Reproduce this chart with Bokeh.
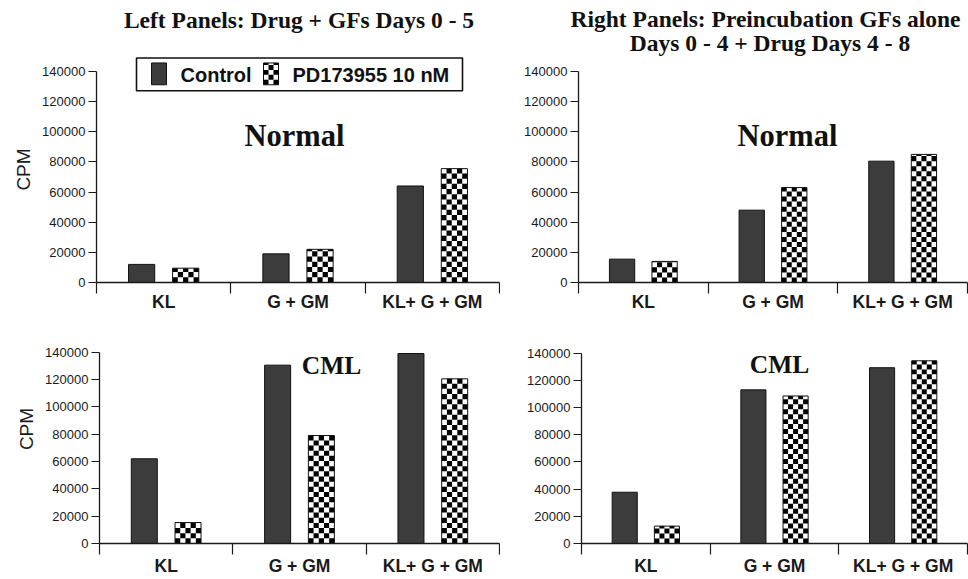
import numpy as np
from bokeh.plotting import figure
from bokeh.layouts import row, column
from bokeh.models import (Range1d, LinearAxis, FixedTicker, BasicTickFormatter, Label)
from bokeh.embed import file_html
from bokeh.resources import INLINE

# ---------------- data ----------------
categories = ["KL", "G + GM", "KL+ G + GM"]
series_names = ["Control", "PD173955 10 nM"]
y_ticks = [0, 20000, 40000, 60000, 80000, 100000, 120000, 140000]

normal_left_control = [12000, 19000, 64000]
normal_left_drug = [9500, 22000, 75500]
normal_right_control = [15500, 48000, 80500]
normal_right_drug = [14000, 63000, 85000]
cml_left_control = [62000, 130500, 139000]
cml_left_drug = [15300, 79000, 120500]
cml_right_control = [37700, 113000, 129300]
cml_right_drug = [12800, 108500, 134400]

title_left = "Left Panels: Drug + GFs Days 0 - 5"
title_right_1 = "Right Panels: Preincubation GFs alone"
title_right_2 = "Days 0 - 4 + Drug Days 4 - 8"
tag_normal = "Normal"
tag_cml = "CML"
y_label = "CPM"

# ---------------- style ----------------
SANS = "Liberation Sans"
SERIF = "Liberation Serif"
INK = "#1a1a1a"
BAR_DARK = "#3c3c3c"
OFF = 0.164
BW = 0.195
CELL_COLS = 5
BASE_SHIFT = 0.3   # empirical: rendered baseline sits ~0.3 em below the anchor


def checker_cells(xl, xr, yb, yt, ncols, cell_h):
    cw = (xr - xl) / ncols
    ls, rs, bs, ts = [], [], [], []
    nrows = int(np.ceil((yt - yb) / cell_h - 1e-9))
    for j in range(nrows):
        b = yb + j * cell_h
        t = min(b + cell_h, yt)
        for i in range(ncols):
            if (i + j) % 2 == 0:
                ls.append(xl + i * cw)
                rs.append(xl + (i + 1) * cw)
                bs.append(b)
                ts.append(t)
    return ls, rs, bs, ts


def make_panel(ctrl, drug, g, ylabel, xl_standoff):
    win_x0, win_y0, width, height = g["box"]
    L, R, y0, y140 = g["L"], g["R"], g["y0"], g["y140"]
    ncat = len(categories)
    y_end = 140000 * (y0 - win_y0) / (y0 - y140)
    p = figure(width=width, height=height,
               x_range=Range1d(0, ncat), y_range=Range1d(0, y_end),
               output_backend="svg", toolbar_location=None,
               x_axis_type=None, y_axis_type=None,
               min_border_left=L - win_x0, min_border_right=win_x0 + width - R,
               min_border_top=0, min_border_bottom=win_y0 + height - y0,
               outline_line_color=None, background_fill_color="white",
               border_fill_color="white")

    centers = np.arange(ncat) + 0.5
    xaxis = LinearAxis(
        ticker=FixedTicker(ticks=list(centers), minor_ticks=list(range(ncat + 1))),
        major_label_overrides={float(c): lab for c, lab in zip(centers, categories)},
        axis_line_color=INK, axis_line_width=1.3,
        major_tick_out=0, major_tick_in=0,
        minor_tick_out=11, minor_tick_in=0,
        minor_tick_line_color=INK, minor_tick_line_width=1.2,
        major_label_text_font=SANS, major_label_text_font_style="bold",
        major_label_text_font_size="17.5px", major_label_text_color=INK,
        major_label_standoff=xl_standoff)
    yaxis = LinearAxis(
        ticker=FixedTicker(ticks=y_ticks), bounds=(0, 140000),
        formatter=BasicTickFormatter(use_scientific=False),
        axis_line_color=INK, axis_line_width=1.3,
        major_tick_out=8, major_tick_in=0,
        major_tick_line_color=INK, major_tick_line_width=1.2,
        major_label_text_font=SANS, major_label_text_font_size="13px",
        major_label_text_color=INK, major_label_standoff=3)
    if ylabel:
        yaxis.axis_label = ylabel
        yaxis.axis_label_text_font = SANS
        yaxis.axis_label_text_font_style = "normal"
        yaxis.axis_label_text_font_size = "19px"
        yaxis.axis_label_text_color = INK
        yaxis.axis_label_standoff = 5
    p.add_layout(xaxis, "below")
    p.add_layout(yaxis, "left")

    px_x = (R - L) / ncat          # pixels per x unit
    px_y = (y0 - y140) / 140000    # pixels per y unit

    # control bars
    p.vbar(x=centers - OFF, top=ctrl, width=BW, bottom=0,
           fill_color=BAR_DARK, line_color="#111111", line_width=1)
    # drug bars: white base, checker cells, outline
    p.vbar(x=centers + OFF, top=drug, width=BW, bottom=0,
           fill_color="white", line_color=None)
    cell_px = BW * px_x / CELL_COLS
    cell_h = cell_px / px_y
    qs = [[], [], [], []]
    for c, v in zip(centers + OFF, drug):
        cells = checker_cells(c - BW / 2, c + BW / 2, 0, v, CELL_COLS, cell_h)
        for k in range(4):
            qs[k].extend(cells[k])
    p.quad(left=qs[0], right=qs[1], bottom=qs[2], top=qs[3],
           fill_color="black", line_color=None)
    p.vbar(x=centers + OFF, top=drug, width=BW, bottom=0,
           fill_color=None, line_color="#111111", line_width=1)

    def xd(wx):
        return (wx - L) / px_x

    def yd(wy):
        return (y0 - wy) / px_y

    for (txt, wx, wy, size) in g["texts"]:
        p.add_layout(Label(x=xd(wx), y=yd(wy - BASE_SHIFT * size), text=txt,
                           text_font=SERIF, text_font_size=f"{size}px",
                           text_font_style="bold",
                           text_color="#111111", text_align="center",
                           text_baseline="alphabetic"))
    return p, xd, yd, px_x, px_y


HDR = 56
geo = {
    "TL": dict(box=(0, HDR, 500, 314 - HDR), L=96, R=499, y0=284, y140=71,
               texts=[(tag_normal, 294, 145.5, 30.5)]),
    "TR": dict(box=(500, HDR, 468, 314 - HDR), L=578, R=967, y0=282, y140=71,
               texts=[(tag_normal, 787, 145, 30.5)]),
    "BL": dict(box=(0, 314, 500, 264), L=99, R=499, y0=545, y140=352,
               texts=[(tag_cml, 331, 373, 25.5)]),
    "BR": dict(box=(500, 314, 468, 264), L=581, R=967, y0=545, y140=353,
               texts=[(tag_cml, 779, 372.5, 25.5)]),
}

p1, xd1, yd1, pxx1, pxy1 = make_panel(normal_left_control, normal_left_drug, geo["TL"], y_label, -2)
p2, *_ = make_panel(normal_right_control, normal_right_drug, geo["TR"], None, -2)
p3, *_ = make_panel(cml_left_control, cml_left_drug, geo["BL"], y_label, 1)
p4, *_ = make_panel(cml_right_control, cml_right_drug, geo["BR"], None, 1)

# ---------------- legend (drawn in the top-left frame) ----------------
LEG_T, LEG_B = 57.5, 90.5
SW_T, SW_B = 62.5, 84.5
p1.quad(left=[xd1(136)], right=[xd1(462)], bottom=[yd1(LEG_B)], top=[yd1(LEG_T)],
        fill_color="white", line_color="#111111", line_width=1.6)
p1.quad(left=[xd1(151)], right=[xd1(166)], bottom=[yd1(SW_B)], top=[yd1(SW_T)],
        fill_color=BAR_DARK, line_color="#111111", line_width=1)
sw = checker_cells(xd1(263), xd1(278), yd1(SW_B), yd1(SW_T), 3, 5 / pxy1)
p1.quad(left=sw[0], right=sw[1], bottom=sw[2], top=sw[3],
        fill_color="black", line_color=None)
p1.quad(left=[xd1(263)], right=[xd1(278)], bottom=[yd1(SW_B)], top=[yd1(SW_T)],
        fill_color=None, line_color="#111111", line_width=1)
LEG_SIZE = 20
for txt, wx in [(series_names[0], 180), (series_names[1], 292)]:
    p1.add_layout(Label(x=xd1(wx), y=yd1(80.5 - BASE_SHIFT * LEG_SIZE), text=txt,
                        text_font=SANS, text_font_size=f"{LEG_SIZE}px",
                        text_font_style="bold",
                        text_color="#111111", text_align="left",
                        text_baseline="alphabetic"))

# ---------------- header with the two panel titles ----------------
TSIZE = 23.5
hdr = figure(width=968, height=HDR, x_range=Range1d(0, 968), y_range=Range1d(HDR, 0),
             output_backend="svg", toolbar_location=None,
             x_axis_type=None, y_axis_type=None, min_border=0,
             outline_line_color=None, background_fill_color="white",
             border_fill_color="white")
for txt, wx, wy in [(title_left, 298.5, 26.5), (title_right_1, 765, 26),
                    (title_right_2, 769.5, 49.5)]:
    hdr.add_layout(Label(x=wx, y=wy - BASE_SHIFT * TSIZE, text=txt, text_font=SERIF,
                         text_font_size=f"{TSIZE}px", text_font_style="bold",
                         text_color="#111111", text_align="center",
                         text_baseline="alphabetic"))

layout = column(hdr, row(p1, p2), row(p3, p4))

html = file_html(layout, INLINE)
with open("out.html", "w") as f:
    f.write(html)
